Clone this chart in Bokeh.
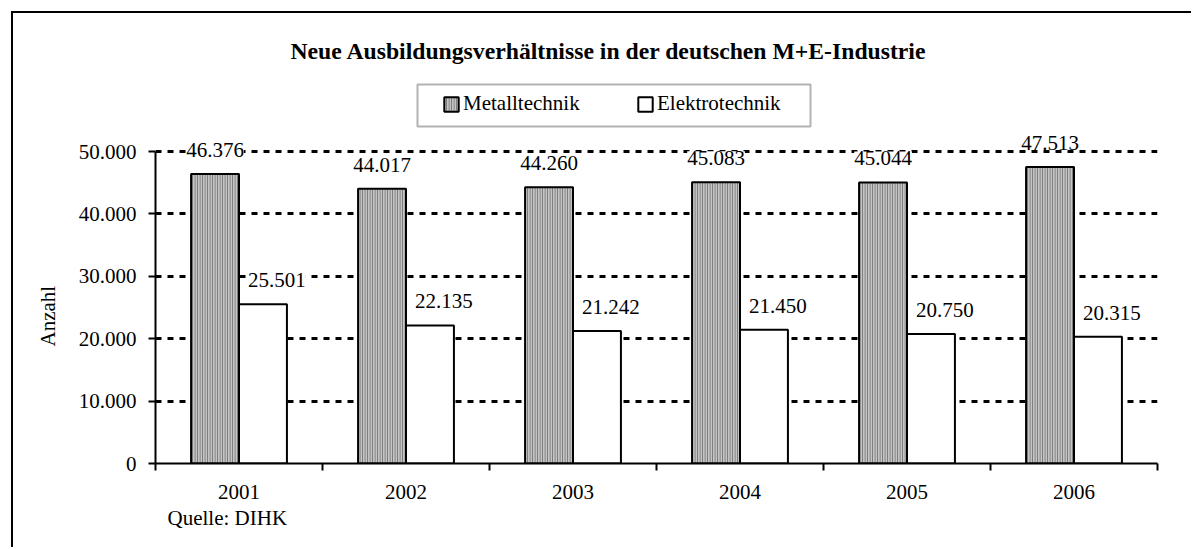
from bokeh.plotting import figure
from bokeh.models import (Range1d, FixedTicker, LabelSet, Label, Legend, LegendItem,
                          ColumnDataSource, Title, BoxAnnotation)
from bokeh.core.properties import value
from bokeh.transform import dodge
from bokeh.embed import file_html
from bokeh.resources import INLINE

# ---- data ----
title_text = "Neue Ausbildungsverhältnisse in der deutschen M+E-Industrie"
years = ["2001", "2002", "2003", "2004", "2005", "2006"]
metall = [46376, 44017, 44260, 45083, 45044, 47513]
elektro = [25501, 22135, 21242, 21450, 20750, 20315]
series_names = ["Metalltechnik", "Elektrotechnik"]
y_ticks = [0, 10000, 20000, 30000, 40000, 50000]
y_tick_labels = ["0", "10.000", "20.000", "30.000", "40.000", "50.000"]
y_axis_title = "Anzahl"
source_note = "Quelle: DIHK"


def de_fmt(v):
    return f"{v:,}".replace(",", ".")


FONT = "Liberation Serif"
# layout (canvas pixels)
MX, MY = 11, 11            # element margin; 2px CSS border -> canvas origin at page (13, 13)
W, H = 1180, 536
FRAME_L, FRAME_R, FRAME_B = 142, 1144, 450
PX_PER_TOPTICK = 312       # pixel height of the 0..50.000 span
BAR_W = 0.287
Y_TOP = y_ticks[-1] * FRAME_B / PX_PER_TOPTICK   # frame reaches to the canvas top

xc = [i + 0.5 for i in range(len(years))]
src = ColumnDataSource(dict(
    x=xc,
    metall=metall,
    elektro=elektro,
    lm=[de_fmt(v) for v in metall],
    le=[de_fmt(v) for v in elektro],
))

p = figure(width=W, height=H, output_backend="svg", toolbar_location=None, title=None,
           x_range=Range1d(0, len(years)), y_range=Range1d(y_ticks[0], Y_TOP),
           min_border_left=FRAME_L, min_border_right=W - FRAME_R, min_border_top=0,
           min_border_bottom=H - FRAME_B)
p.margin = (MY, 0, 0, MX)
p.styles = {"border-left": "2px solid black", "border-top": "2px solid black"}
p.outline_line_color = None
p.background_fill_color = "white"
p.border_fill_color = "white"

r_m = p.vbar(x=dodge("x", -BAR_W / 2, range=p.x_range), top="metall", width=BAR_W,
             source=src, fill_color="#c4c4c4", hatch_pattern="vertical_line",
             hatch_color="#6e6e6e", hatch_scale=2.5, hatch_weight=1,
             line_color="black", line_width=2)
r_e = p.vbar(x=dodge("x", BAR_W / 2, range=p.x_range), top="elektro", width=BAR_W,
             source=src, fill_color="white", line_color="black", line_width=2)

# grid
p.xgrid.visible = False
p.ygrid.ticker = FixedTicker(ticks=y_ticks[1:])
p.ygrid.grid_line_color = "black"
p.ygrid.grid_line_width = 3
p.ygrid.grid_line_dash = "6 6"

# y axis
ya = p.yaxis[0]
ya.bounds = (y_ticks[0], y_ticks[-1])
ya.ticker = FixedTicker(ticks=y_ticks)
ya.major_label_overrides = {t: l for t, l in zip(y_ticks, y_tick_labels)}
ya.axis_line_width = 2
ya.major_tick_line_width = 2
ya.major_tick_out = 7
ya.major_tick_in = 0
ya.minor_tick_line_color = None
ya.major_label_text_font = FONT
ya.major_label_text_font_size = "21px"
ya.major_label_text_color = "black"
ya.major_label_standoff = 12

# y axis title (as a side title so it can sit beside the 0..50.000 span)
p.add_layout(Title(text=y_axis_title, align="left", offset=117, standoff=31,
                   text_font=FONT, text_font_size="21px", text_font_style="normal",
                   text_color="black"), "left")

# x axis
xa = p.xaxis[0]
xa.ticker = FixedTicker(ticks=xc, minor_ticks=list(range(len(years) + 1)))
xa.major_label_overrides = {x: y for x, y in zip(xc, years)}
xa.axis_line_width = 2
xa.major_tick_line_color = None
xa.minor_tick_line_color = "black"
xa.minor_tick_line_width = 2
xa.minor_tick_out = 7
xa.minor_tick_in = 0
xa.major_label_text_font = FONT
xa.major_label_text_font_size = "21px"
xa.major_label_text_color = "black"
xa.major_label_standoff = 14

# value labels
common = dict(source=src, text_font=value(FONT), text_font_size="21px",
              text_align="center", text_baseline="alphabetic", text_color="black",
              background_fill_color="white")
p.add_layout(LabelSet(x=dodge("x", -BAR_W / 2, range=p.x_range), y="metall", text="lm",
                      y_offset=17, **common))
p.add_layout(LabelSet(x=dodge("x", BAR_W / 2, range=p.x_range), y="elektro", text="le",
                      y_offset=17, x_offset=14, **common))

# legend box + legend
p.add_layout(BoxAnnotation(left=402, right=795, top=69, bottom=111,
                           left_units="canvas", right_units="canvas",
                           top_units="canvas", bottom_units="canvas",
                           fill_alpha=0, line_color="black", line_width=2))
legend = Legend(items=[LegendItem(label=series_names[0], renderers=[r_m]),
                       LegendItem(label=series_names[1], renderers=[r_e])],
                orientation="horizontal", location=(287, 347),
                glyph_width=18, glyph_height=18, label_standoff=3, spacing=33,
                label_width=140, padding=0, margin=0,
                border_line_color=None, background_fill_alpha=0,
                label_text_font=FONT, label_text_font_size="21px",
                label_text_color="black")
p.add_layout(legend, "center")

# title
p.add_layout(Label(x=275, y=35, x_units="canvas", y_units="canvas", text=title_text,
                   text_font=FONT, text_font_size="23.7px", text_font_style="bold",
                   text_color="black", text_align="left", text_baseline="middle"))

# source note
p.add_layout(Title(text=source_note, align="left", offset=12, standoff=4,
                   text_font=FONT, text_font_size="21px", text_font_style="normal",
                   text_color="black"), "below")

open("out.html", "w").write(file_html(p, INLINE))
